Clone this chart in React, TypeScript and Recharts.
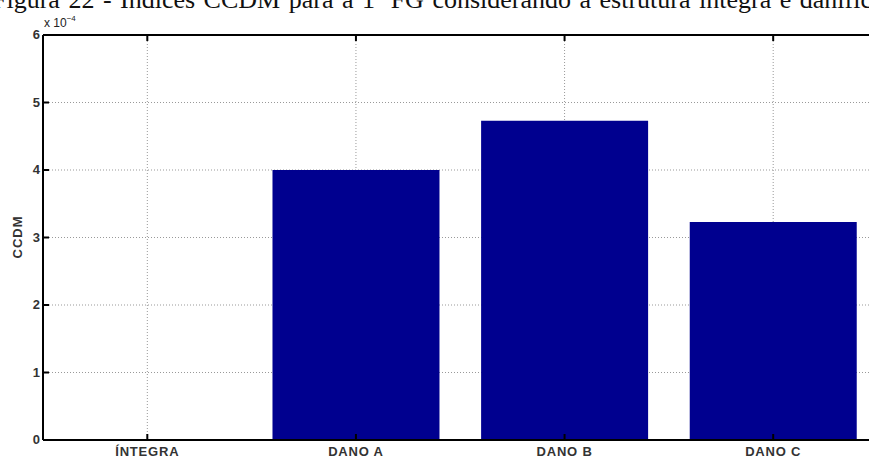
import { Bar, BarChart, CartesianGrid, XAxis, YAxis } from "recharts";

const categories = ["ÍNTEGRA", "DANO A", "DANO B", "DANO C"];
// CCDM index, in units of 10^-4
const ccdm = [0, 4.0, 4.73, 3.23];
const yTicks = [0, 1, 2, 3, 4, 5, 6];

const data = categories.map((name, i) => ({ name, ccdm: ccdm[i] }));

const labelFont = "'Liberation Sans', Arial, sans-serif";

// tick marks point inward, labels sit outside the box
function YTick(props: any) {
  const { x, y, payload } = props;
  return (
    <g>
      <line x1={x} x2={x + 6} y1={y} y2={y} stroke="#000" strokeWidth={2} />
      <text x={x - 3} y={y} dy={4} textAnchor="end" fontSize={13} fontWeight="bold" fill="#333" fontFamily={labelFont}>
        {payload.value}
      </text>
    </g>
  );
}

function BottomTick(props: any) {
  const { x, y, payload } = props;
  return (
    <g>
      <line x1={x} x2={x} y1={y} y2={y - 6} stroke="#000" strokeWidth={2} />
      <text
        x={x}
        y={y + 16}
        textAnchor="middle"
        fontSize={13}
        letterSpacing={0.8}
        fontWeight="bold"
        fill="#333"
        fontFamily={labelFont}
      >
        {payload.value}
      </text>
    </g>
  );
}

function TopTick(props: any) {
  const { x, y } = props;
  return <line x1={x} x2={x} y1={y} y2={y + 6} stroke="#000" strokeWidth={2} />;
}

export default function App() {
  return (
    <div style={{ position: "absolute", left: 0, top: 0, width: 869, height: 460, overflow: "hidden", background: "#fff" }}>
      <BarChart
        width={880}
        height={460}
        data={data}
        margin={{ top: 34, right: 2.5, left: 0, bottom: 0 }}
        barCategoryGap="10%"
      >
        <CartesianGrid strokeDasharray="1 2" stroke="#999" />
        <XAxis
          dataKey="name"
          height={20}
          tickSize={0}
          tickMargin={0}
          tickLine={false}
          axisLine={{ stroke: "#000", strokeWidth: 2 }}
          tick={BottomTick}
          interval={0}
        />
        <XAxis
          xAxisId="top"
          orientation="top"
          dataKey="name"
          height={1}
          tickSize={0}
          tickMargin={0}
          tickLine={false}
          axisLine={{ stroke: "#000", strokeWidth: 2 }}
          tick={TopTick}
          interval={0}
        />
        <YAxis
          width={43}
          domain={[0, 6]}
          ticks={yTicks}
          tickSize={0}
          tickMargin={0}
          tickLine={false}
          axisLine={{ stroke: "#000", strokeWidth: 2 }}
          tick={YTick}
          interval={0}
        />
        <Bar dataKey="ccdm" fill="#00008f" isAnimationActive={false} />
      </BarChart>
      <svg width={869} height={460} style={{ position: "absolute", left: 0, top: 0, pointerEvents: "none" }}>
        <text x={-8} y={8} fontSize={26} wordSpacing={2} fontFamily="'Liberation Serif', 'Times New Roman', serif" fill="#111">
          Figura 22 - Índices CCDM para a 1ª FG considerando a estrutura íntegra e danificada
        </text>
        <text x={44} y={27} fontSize={12} fontFamily={labelFont} fill="#222">
          x 10
          <tspan dy={-6} fontSize={8}>
            −4
          </tspan>
        </text>
        <text
          x={22}
          y={237}
          transform="rotate(-90 22 237)"
          textAnchor="middle"
          fontSize={13}
          letterSpacing={1}
          fontWeight="bold"
          fill="#333"
          fontFamily={labelFont}
        >
          CCDM
        </text>
      </svg>
    </div>
  );
}
